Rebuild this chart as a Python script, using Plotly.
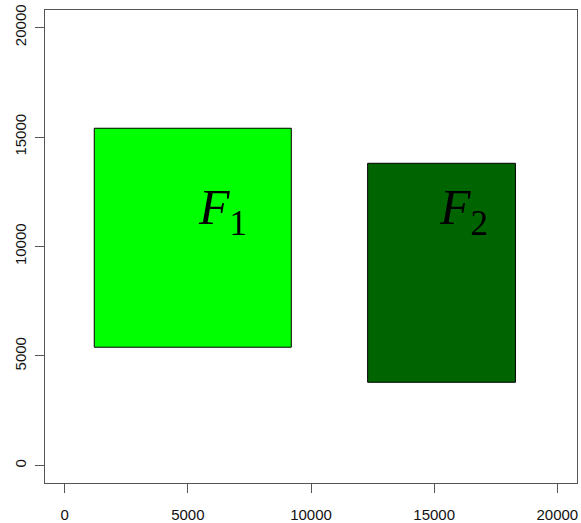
import plotly.graph_objects as go

# Rectangles (data coordinates)
rect_names = ["F1", "F2"]
rect_x0 = [1200, 12300]
rect_x1 = [9200, 18300]
rect_y0 = [5400, 3800]
rect_y1 = [15400, 13800]
rect_colors = ["#00FF00", "#006400"]

label_text = ["<i>F</i><sub>1</sub>", "<i>F</i><sub>2</sub>"]
label_x = [6400, 16200]
label_y = [11600, 11600]

tick_vals = [0, 5000, 10000, 15000, 20000]
tick_text = ["0", "5000", "10000", "15000", "20000"]

fig = go.Figure()
for i in range(len(rect_names)):
    fig.add_trace(go.Scatter(
        x=[rect_x0[i], rect_x1[i], rect_x1[i], rect_x0[i], rect_x0[i]],
        y=[rect_y0[i], rect_y0[i], rect_y1[i], rect_y1[i], rect_y0[i]],
        mode="lines", fill="toself", fillcolor=rect_colors[i],
        line=dict(color="#000000", width=1), name=rect_names[i],
        hoverinfo="skip", showlegend=False))

for i in range(len(label_text)):
    fig.add_annotation(x=label_x[i], y=label_y[i], text=label_text[i],
                       showarrow=False, xref="x", yref="y",
                       font=dict(family="Liberation Serif", size=50, color="#000000"))

axis_common = dict(
    showgrid=False, zeroline=False, showline=True, mirror=True,
    linecolor="#555555", linewidth=1, ticks="outside", ticklen=9,
    tickcolor="#555555", tickwidth=1,
    tickvals=tick_vals, ticktext=tick_text,
    tickfont=dict(family="Liberation Sans", size=15, color="#111111"),
    range=[-800, 20800], automargin=False, ticklabeloverflow="allow",
)
fig.update_xaxes(**axis_common, ticklabelstandoff=9)
fig.update_yaxes(**axis_common, tickangle=-90, ticklabelstandoff=3)

fig.update_layout(
    width=581, height=523,
    margin=dict(l=45, r=4, t=10, b=40),
    plot_bgcolor="white", paper_bgcolor="white",
    showlegend=False,
)
fig.write_html("out.html", config={"displayModeBar": False},
               post_script="document.body.style.margin='0';document.body.style.overflow='hidden';")
